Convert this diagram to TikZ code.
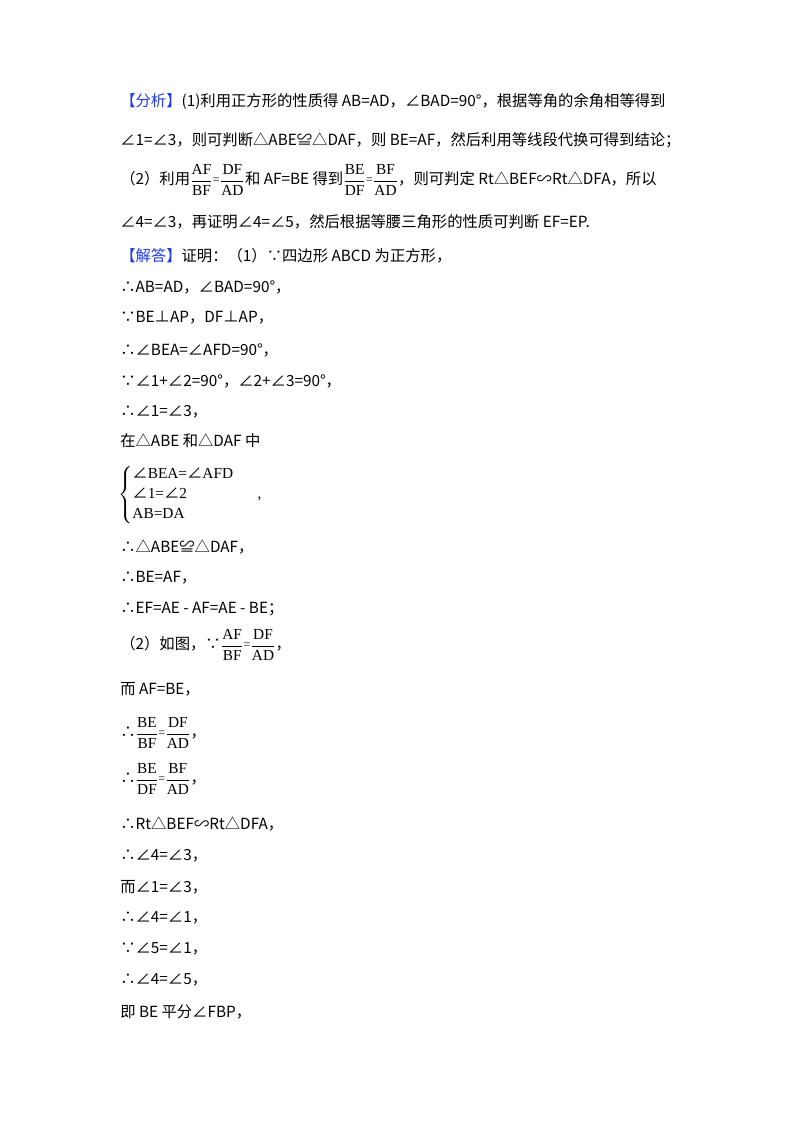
\documentclass[tikz,border=0pt]{standalone}
\usepackage{amsmath}
\usepackage{fontspec}
\setmainfont{Noto Sans CJK SC}
\newfontfamily\tms{Liberation Serif}
\definecolor{lblue}{RGB}{30,60,230}
\begin{document}
\begin{tikzpicture}[x=0.75pt,y=-0.75pt,every node/.style={anchor=west,inner sep=0pt,font=\fontsize{11.5}{13}\selectfont}]
\useasboundingbox (0,0) rectangle (800,1132);
\newcommand{\fr}[2]{$\dfrac{\text{\tms #1}}{\text{\tms #2}}$}
\newcommand{\eqf}{\raisebox{0.2ex}{\tms\small =}}
\node (l1) at (120,101) {\textcolor{lblue}{【分析】}(1)利用正方形的性质得 AB=AD，∠BAD=90°，根据等角的余角相等得到};
\node (l2) at (120,140) {∠1=∠3，则可判断△ABE≌△DAF，则 BE=AF，然后利用等线段代换可得到结论；};
\node (l3) at (120,180) {（2）利用\fr{AF}{BF}\eqf\fr{DF}{AD}和 AF=BE 得到\fr{BE}{DF}\eqf\fr{BF}{AD}，则可判定 Rt△BEF∽Rt△DFA，所以};
\node (l4) at (120,222) {∠4=∠3，再证明∠4=∠5，然后根据等腰三角形的性质可判断 EF=EP.};
\node (l5) at (120,256) {\textcolor{lblue}{【解答】}证明：（1）∵四边形 ABCD 为正方形，};
\node (l6) at (120,287) {∴AB=AD，∠BAD=90°，};
\node (l7) at (120,318) {∵BE⊥AP，DF⊥AP，};
\node (l8) at (120,350) {∴∠BEA=∠AFD=90°，};
\node (l9) at (120,381) {∵∠1+∠2=90°，∠2+∠3=90°，};
\node (l10) at (120,412) {∴∠1=∠3，};
\node (l11) at (120,441) {在△ABE 和△DAF 中};
\node (l12) at (118,495) {$\left\{\begin{array}{@{}l@{}}\text{∠\tms BEA=}\text{∠\tms AFD}\\[2pt] \text{∠\tms 1=}\text{∠\tms 2}\hspace{4.6em}\text{\tms ,}\\[2pt] \text{\tms AB=DA}\end{array}\right.$};
\node (l13) at (120,547) {∴△ABE≌△DAF，};
\node (l14) at (120,578) {∴BE=AF，};
\node (l15) at (120,609) {∴EF=AE - AF=AE - BE；};
\node (l16) at (120,645) {（2）如图，∵\fr{AF}{BF}\eqf\fr{DF}{AD}，};
\node (l17) at (120,689) {而 AF=BE，};
\node (l18) at (120,733) {∴\fr{BE}{BF}\eqf\fr{DF}{AD}，};
\node (l19) at (120,779) {∴\fr{BE}{DF}\eqf\fr{BF}{AD}，};
\node (l20) at (120,824) {∴Rt△BEF∽Rt△DFA，};
\node (l21) at (120,856) {∴∠4=∠3，};
\node (l22) at (120,887) {而∠1=∠3，};
\node (l23) at (120,918) {∴∠4=∠1，};
\node (l24) at (120,949) {∵∠5=∠1，};
\node (l25) at (120,980) {∴∠4=∠5，};
\node (l26) at (120,1012) {即 BE 平分∠FBP，};
\end{tikzpicture}
\end{document}
